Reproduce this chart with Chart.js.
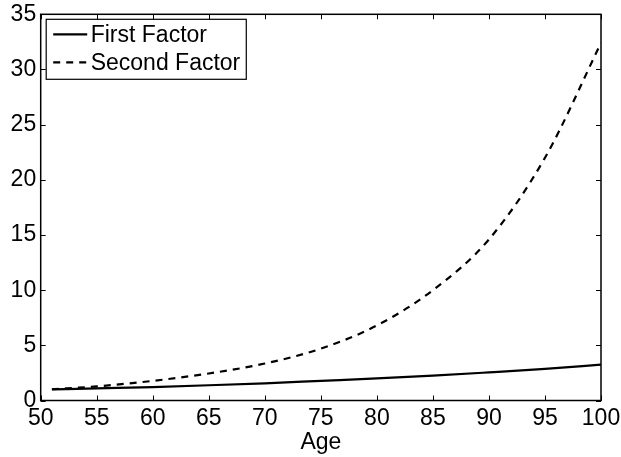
<!DOCTYPE html>
<html>
<head>
<meta charset="utf-8">
<script src="https://cdn.jsdelivr.net/npm/chart.js@4.4.1/dist/chart.umd.min.js"></script>
<style>
    html, body { margin: 0; padding: 0; background: #fff; }
</style>
</head>
<body>
<canvas id="factorChart" width="621" height="457"></canvas>
<script>
// values
const ages = [51, 55, 60, 65, 70, 75, 80, 85, 90, 95, 100];
const firstFactor = [1.0, 1.1, 1.22, 1.38, 1.56, 1.78, 2.0, 2.25, 2.55, 2.87, 3.25];
const secondFactor = [1.02, 1.28, 1.78, 2.45, 3.35, 4.7, 6.8, 10.0, 14.6, 22.0, 32.4];
const seriesLabels = ['First Factor', 'Second Factor'];
const xTicks = [50, 55, 60, 65, 70, 75, 80, 85, 90, 95, 100];
const yTicks = [0, 5, 10, 15, 20, 25, 30, 35];

const FONT = "'Liberation Sans', Arial, Helvetica, sans-serif";

function toPoints(ys) {
    return ages.map((a, i) => ({ x: a, y: ys[i] }));
}

// MATLAB style box, inward ticks and boxed legend
const matlabBox = {
    id: 'matlabBox',
    afterDraw(chart) {
        const ctx = chart.ctx;
        const area = chart.chartArea;
        const xs = chart.scales.x, ys = chart.scales.y;
        ctx.save();
        ctx.strokeStyle = '#000';
        ctx.lineWidth = 1.5;
        ctx.strokeRect(area.left, area.top, area.right - area.left, area.bottom - area.top);

        ctx.lineWidth = 1;
        const len = 5;
        ctx.beginPath();
        xTicks.forEach(v => {
            const px = Math.round(xs.getPixelForValue(v)) + 0.5;
            ctx.moveTo(px, area.bottom); ctx.lineTo(px, area.bottom - len);
            ctx.moveTo(px, area.top); ctx.lineTo(px, area.top + len);
        });
        yTicks.forEach(v => {
            const py = Math.round(ys.getPixelForValue(v)) + 0.5;
            ctx.moveTo(area.left, py); ctx.lineTo(area.left + len, py);
            ctx.moveTo(area.right, py); ctx.lineTo(area.right - len, py);
        });
        ctx.stroke();

        // legend
        ctx.font = '23px ' + FONT;
        const sets = chart.data.datasets;
        let tw = 0;
        sets.forEach(d => { tw = Math.max(tw, ctx.measureText(d.label).width); });
        const bx = area.left + 5.5, by = area.top + 5;
        const bw = 44.5 + tw + 6, bh = 60;
        ctx.fillStyle = '#fff';
        ctx.fillRect(bx, by, bw, bh);
        ctx.lineWidth = 1.2;
        ctx.strokeRect(bx, by, bw, bh);
        sets.forEach((d, i) => {
            const cy = by + 15 + i * 28;
            ctx.beginPath();
            ctx.lineWidth = d.borderWidth;
            ctx.setLineDash(d.borderDash || []);
            ctx.moveTo(bx + 7, cy);
            ctx.lineTo(bx + 41, cy);
            ctx.stroke();
            ctx.setLineDash([]);
            ctx.fillStyle = '#000';
            ctx.textBaseline = 'middle';
            ctx.fillText(d.label, bx + 44.5, cy + 1);
        });
        ctx.restore();
    }
};

const ctx = document.getElementById('factorChart').getContext('2d');
const factorChart = new Chart(ctx, {
    type: 'line',
    data: {
        datasets: [{
            label: seriesLabels[0],
            data: toPoints(firstFactor),
            borderColor: '#000',
            borderWidth: 2.2,
            pointRadius: 0,
            cubicInterpolationMode: 'monotone',
            fill: false
        }, {
            label: seriesLabels[1],
            data: toPoints(secondFactor),
            borderColor: '#000',
            borderWidth: 2.2,
            borderDash: [7, 6],
            pointRadius: 0,
            cubicInterpolationMode: 'monotone',
            fill: false
        }]
    },
    options: {
        responsive: false,
        animation: false,
        devicePixelRatio: 1,
        layout: { padding: { top: 14.3, right: 20, left: 0, bottom: 0 } },
        plugins: {
            legend: { display: false },
            tooltip: { enabled: false }
        },
        scales: {
            x: {
                type: 'linear',
                min: 50,
                max: 100,
                afterBuildTicks: s => { s.ticks = xTicks.map(v => ({ value: v })); },
                afterFit: s => { s.height = 56.5; s.paddingLeft = 0; s.paddingRight = 0; },
                grid: { display: false, drawTicks: false, tickLength: 0 },
                border: { display: false },
                ticks: {
                    color: '#000',
                    font: { family: FONT, size: 23 },
                    padding: 4,
                    maxRotation: 0,
                    autoSkip: false
                },
                title: {
                    display: true,
                    text: 'Age',
                    color: '#000',
                    font: { family: FONT, size: 23 },
                    padding: { top: 0, bottom: 1 }
                }
            },
            y: {
                min: 0,
                max: 35,
                afterBuildTicks: s => { s.ticks = yTicks.map(v => ({ value: v })); },
                afterFit: s => { s.width = 40.7; s.paddingTop = 0; s.paddingBottom = 0; },
                grid: { display: false, drawTicks: false, tickLength: 0 },
                border: { display: false },
                ticks: {
                    color: '#000',
                    font: { family: FONT, size: 23 },
                    padding: 4.5,
                    autoSkip: false
                }
            }
        }
    },
    plugins: [matlabBox]
});
</script>
</body>
</html>
